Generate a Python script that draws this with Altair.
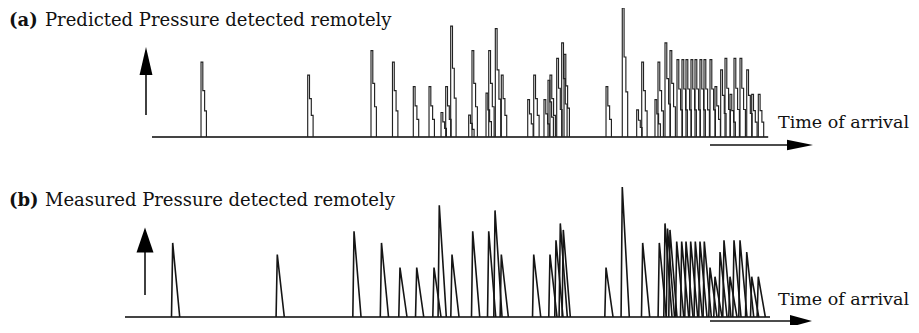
import altair as alt
import pandas as pd

# ---------------- data ----------------
# Panel (a): predicted arrivals (time units) and relative amplitudes
pred_time = [8.17, 25.95, 36.5, 40.08, 43.55, 46.17, 48.17, 48.95, 49.78, 52.78,
             53.33, 55.67, 56.12, 57.22, 58.22, 62.62, 63.62, 65.33, 66.0, 66.33,
             67.45, 68.28, 68.67, 75.67, 78.38, 80.78, 81.62, 83.83, 84.33, 85.5,
             86.33, 87.5, 88.33, 89.0, 89.83, 90.5, 91.33, 92.0, 93.0, 93.83,
             94.78, 95.5, 96.33, 97.0, 98.0, 99.12, 99.95, 101.05]
pred_amp = [0.58, 0.48, 0.67, 0.58, 0.39, 0.39, 0.19, 0.39, 0.86, 0.17,
            0.67, 0.34, 0.67, 0.84, 0.48, 0.29, 0.48, 0.29, 0.44, 0.48,
            0.61, 0.73, 0.64, 0.39, 1.0, 0.21, 0.58, 0.29, 0.58, 0.73,
            0.67, 0.60, 0.60, 0.60, 0.60, 0.60, 0.60, 0.60, 0.60, 0.39,
            0.52, 0.61, 0.33, 0.61, 0.61, 0.52, 0.33, 0.33]

# Panel (b): measured arrivals and relative amplitudes
meas_time = [3.45, 20.88, 33.67, 38.25, 41.33, 44.12, 47.0, 47.88, 50.0, 53.45,
             56.12, 57.17, 58.22, 63.62, 66.33, 67.33, 68.05, 68.55, 75.67, 78.38,
             81.78, 84.55, 85.5, 85.92, 86.33, 87.45, 88.28, 89.0, 89.78, 90.55,
             91.33, 92.05, 93.0, 93.83, 94.67, 95.33, 96.33, 97.0, 98.0, 99.12,
             99.95, 101.05]
meas_amp = [0.57, 0.48, 0.66, 0.57, 0.38, 0.38, 0.38, 0.86, 0.48, 0.66,
            0.66, 0.82, 0.48, 0.48, 0.48, 0.59, 0.72, 0.67, 0.38, 1.0,
            0.57, 0.57, 0.72, 0.68, 0.67, 0.58, 0.58, 0.58, 0.58, 0.58,
            0.58, 0.58, 0.38, 0.31, 0.50, 0.59, 0.31, 0.59, 0.59, 0.50,
            0.31, 0.31]

# time-axis extent of each panel's base line
axis_a = [0.0, 102.7]
axis_b = [-4.5, 103.0]

titles_a = ["(a)", "Predicted Pressure detected remotely"]
titles_b = ["(b)", "Measured Pressure detected remotely"]
x_label = "Time of arrival"

# ---------------- spike geometry ----------------
PULSE_W_A = 0.9   # decay duration of one predicted pulse (stepped)
PULSE_W_B = 1.17  # decay duration of one measured pulse
RISE_W = 0.2

rows_a = []
for i, (t, a) in enumerate(zip(pred_time, pred_amp)):
    pts = [(t, 0.0), (t, a), (t + PULSE_W_A / 3, 0.62 * a),
           (t + 2 * PULSE_W_A / 3, 0.35 * a), (t + PULSE_W_A, 0.0)]
    for k, (x, v) in enumerate(pts):
        rows_a.append({"id": i, "k": k, "t": x, "v": v})
df_a = pd.DataFrame(rows_a)

rows_b = []
for i, (t, a) in enumerate(zip(meas_time, meas_amp)):
    pts = [(t - RISE_W, 0.0), (t, a), (t + PULSE_W_B, 0.0)]
    for k, (x, v) in enumerate(pts):
        rows_b.append({"id": i, "k": k, "t": x, "v": v})
df_b = pd.DataFrame(rows_b)

base_a = pd.DataFrame({"x0": [axis_a[0]], "x1": [axis_a[1]], "y": [0.0]})
base_b = pd.DataFrame({"x0": [axis_b[0]], "x1": [axis_b[1]], "y": [0.0]})

# ---------------- scales ----------------
W, H = 903, 317
xs = alt.Scale(domain=[-24, 126.5], nice=False, zero=False)
ya = alt.Scale(domain=[-1.4574, 1.0], nice=False, zero=False)
yb = alt.Scale(domain=[-0.0615, 2.3769], nice=False, zero=False)

FONT = "DejaVu Serif"

spikes_a = alt.Chart(df_a).mark_line(
    interpolate="step-after", color="#222222", strokeWidth=1.15
).encode(
    x=alt.X("t:Q", scale=xs, axis=None),
    y=alt.Y("v:Q", scale=ya, axis=None),
    detail="id:N",
    order="k:Q",
)
spikes_b = alt.Chart(df_b).mark_line(color="#151515", strokeWidth=1.6).encode(
    x=alt.X("t:Q", scale=xs, axis=None),
    y=alt.Y("v:Q", scale=yb, axis=None),
    detail="id:N",
    order="k:Q",
)
baseline_a = alt.Chart(base_a).mark_rule(color="#444444", strokeWidth=1.8).encode(
    x=alt.X("x0:Q", scale=xs, axis=None), x2="x1:Q",
    y=alt.Y("y:Q", scale=ya, axis=None),
)
baseline_b = alt.Chart(base_b).mark_rule(color="#444444", strokeWidth=1.8).encode(
    x=alt.X("x0:Q", scale=xs, axis=None), x2="x1:Q",
    y=alt.Y("y:Q", scale=yb, axis=None),
)

def vrule(x, y1, y2, w=1.6):
    return alt.Chart().mark_rule(color="#111111", strokeWidth=w).encode(
        x=alt.value(x), y=alt.value(y1), y2=alt.value(y2))

def hrule(x1, x2, y, w=1.6):
    return alt.Chart().mark_rule(color="#111111", strokeWidth=w).encode(
        x=alt.value(x1), x2=alt.value(x2), y=alt.value(y))

def head(x, y, shape, size):
    return alt.Chart().mark_point(
        shape=shape, filled=True, color="#000000", opacity=1, size=size, strokeWidth=0
    ).encode(x=alt.value(x), y=alt.value(y))

def label(x, y, txt, bold=False, size=18):
    return alt.Chart().mark_text(
        text=txt, font=FONT, fontSize=size, fontWeight="bold" if bold else "normal",
        align="left", baseline="alphabetic", color="#111111"
    ).encode(x=alt.value(x), y=alt.value(y))

decor = [
    # panel (a)
    vrule(138, 107, 64),
    head(138, 53, "M0,-1L0.46,1L-0.46,1Z", 784),
    hrule(702, 782, 137),
    head(792, 137, "M1,0L-1,-0.4L-1,0.4Z", 676),
    label(1, 18, titles_a[0], bold=True),
    label(37, 18, titles_a[1]),
    label(770, 120, x_label, size=17.5),
    # panel (b)
    vrule(137, 287, 242),
    head(137, 232, "M0,-1L0.68,1L-0.68,1Z", 625),
    hrule(702, 784, 313),
    head(793, 313, "M1,0L-1,-0.55L-1,0.55Z", 484),
    label(1, 198, titles_b[0], bold=True),
    label(37, 198, titles_b[1]),
    label(770, 297, x_label, size=17.5),
]

chart = alt.layer(
    baseline_a, spikes_a, baseline_b, spikes_b, *decor,
    data=pd.DataFrame({"dummy": [0]}),
).resolve_scale(y="independent").properties(
    width=W, height=H,
    autosize=alt.AutoSizeParams(type="none"),
    padding=0,
).configure_view(stroke=None)

chart.save("out.html", embed_options={"renderer": "svg", "actions": False})
